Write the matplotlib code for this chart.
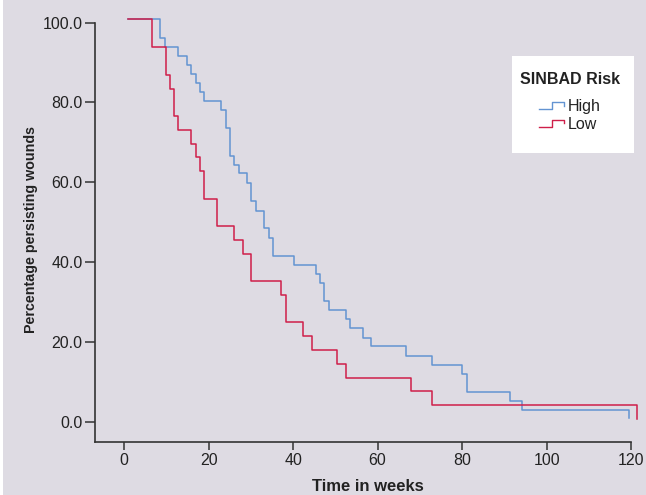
import matplotlib
matplotlib.use("Agg")
import matplotlib.pyplot as plt
from matplotlib.lines import Line2D
from matplotlib.patches import Rectangle

plt.rcParams["font.family"] = ["Liberation Sans", "DejaVu Sans"]

# Kaplan-Meier style curves (weeks, % persisting)
high_t = [1, 8.5, 9.7, 12.7, 14.9, 15.8, 16.9, 17.9, 19.0, 22.9, 24.0, 25.0, 26.1, 27.1,
          29.0, 30.1, 31.2, 33.1, 34.2, 35.2, 40.3, 45.4, 46.3, 47.4, 48.4, 52.5, 53.5,
          56.5, 58.5, 66.7, 72.8, 80.0, 81.1, 91.3, 94.1, 119.5]
high_v = [100.9, 96.2, 93.8, 91.7, 89.5, 87.1, 84.9, 82.5, 80.4, 78.1, 73.5, 66.7, 64.4,
          62.2, 59.8, 55.3, 52.9, 48.5, 46.1, 41.6, 39.3, 37.0, 34.7, 30.2, 27.9, 25.6,
          23.4, 21.0, 18.9, 16.5, 14.1, 11.9, 7.4, 5.1, 2.9, 0.9]

low_t = [1, 6.7, 9.9, 10.9, 11.7, 12.8, 15.8, 16.9, 18.0, 19.0, 22.0, 25.9, 28.1, 30.1,
         37.2, 38.3, 42.3, 44.4, 50.5, 52.5, 67.8, 72.8, 121.5]
low_v = [100.9, 93.8, 87.0, 83.4, 76.6, 73.1, 69.6, 66.4, 62.7, 55.9, 49.0, 45.6, 42.0,
         35.2, 31.7, 24.9, 21.4, 17.9, 14.5, 11.0, 7.6, 4.1, 0.7]

x_ticks = [0, 20, 40, 60, 80, 100, 120]
y_ticks = [0, 20, 40, 60, 80, 100]

bg = "#dedbe3"
blue = "#6394d2"
red = "#cf1f4a"
dark = "#333333"

fig = plt.figure(figsize=(6.46, 4.95), dpi=100, facecolor=bg)
fig.patches.append(Rectangle((0, 0), 3 / 646, 1, transform=fig.transFigure,
                             facecolor="white", edgecolor="none"))
ax = fig.add_axes([0.1471, 0.1063, 0.8461, 0.86])
ax.set_facecolor(bg)

ax.step(high_t, high_v, where="post", color=blue, lw=1.1)
ax.step(low_t, low_v, where="post", color=red, lw=1.1)

ax.set_xlim(-6.9, 122.5)
ax.set_ylim(-5.2, 101.5)
ax.spines["top"].set_visible(False)
ax.spines["right"].set_visible(False)
ax.spines["left"].set_bounds(-5.2, 100)
ax.spines["bottom"].set_bounds(-6.9, 120)
for s in ("left", "bottom"):
    ax.spines[s].set_color(dark)
    ax.spines[s].set_linewidth(1.2)

ax.set_xticks(x_ticks)
ax.set_yticks(y_ticks)
ax.set_yticklabels([f"{v:.1f}" for v in y_ticks])
ax.tick_params(length=5.5, width=1.1, color=dark, labelsize=11.5, labelcolor="#222222", pad=2)
ax.tick_params(axis="y", length=7)

ax.set_xlabel("Time in weeks", fontsize=12, fontweight="bold", labelpad=8, color="#222222")
ax.set_ylabel("Percentage persisting wounds", fontsize=10.3, fontweight="bold", labelpad=3,
              color="#222222")

# legend box drawn by hand to get the step-shaped keys
W, H = 646, 495


def fx(px):
    return px / W


def fy(py):
    return 1 - py / H


fig.patches.append(Rectangle((fx(512), fy(153)), fx(634) - fx(512), fy(56) - fy(153),
                             transform=fig.transFigure, facecolor="white", edgecolor="none"))
fig.text(fx(570), fy(79), "SINBAD Risk", ha="center", va="center", fontsize=11.5,
         fontweight="bold", color="#222222")
for base, col, lab in ((109, blue, "High"), (127, red, "Low")):
    xs = [539, 552, 552, 564, 564]
    ys = [base, base, base - 7.5, base - 7.5, base - 3.5]
    fig.lines.append(Line2D([fx(v) for v in xs], [fy(v) for v in ys], color=col, lw=1.0,
                            transform=fig.transFigure))
    fig.text(fx(568), fy(base - 3), lab, ha="left", va="center", fontsize=11.5, color="#222222")

fig.savefig("out.png", dpi=100, facecolor=bg)
